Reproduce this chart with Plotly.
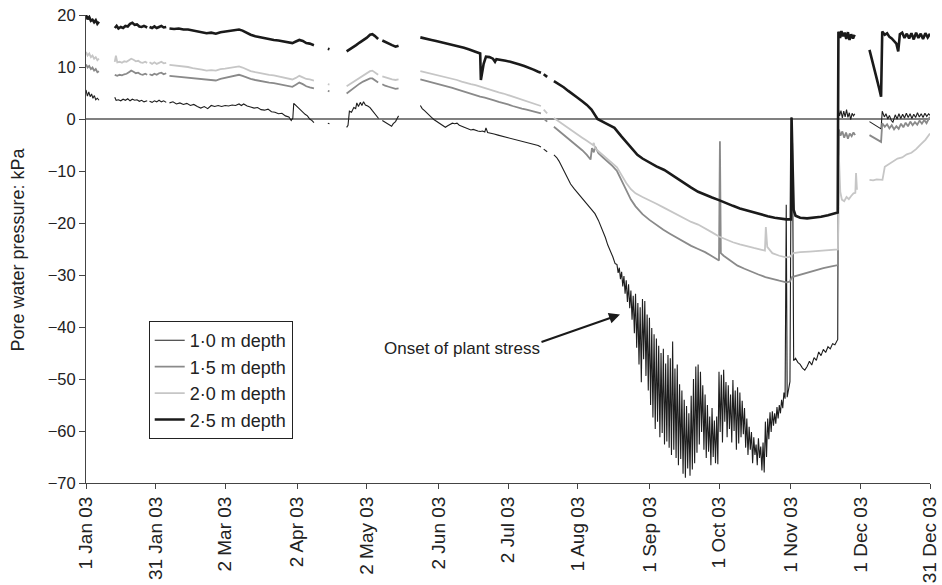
import plotly.graph_objects as go

# ---------------- data (day of year 2003, pore water pressure kPa) ----------------
tick_days = [0, 30, 60, 91, 121, 152, 182, 212, 243, 273, 304, 334, 364]
tick_labels = ["1 Jan 03", "31 Jan 03", "2 Mar 03", "2 Apr 03", "2 May 03", "2 Jun 03",
               "2 Jul 03", "1 Aug 03", "1 Sep 03", "1 Oct 03", "1 Nov 03", "1 Dec 03", "31 Dec 03"]
series_names = ["1·0 m depth", "1·5 m depth", "2·0 m depth", "2·5 m depth"]

depth_1_0 = [
    (0, 5.6), (0.6, 4.4), (1.2, 5.2), (1.8, 4.3), (2.4, 4.8), (3.0, 4.0), (3.6, 4.5), (4.2, 3.7), (4.9, 4.0), (5.6, 3.6),
    None,
    (12.4, 4.2), (13.0, 3.6), (14.0, 3.7), (15.0, 3.5), (16.0, 3.8), (17.0, 3.6), (18.0, 3.9), (19.0, 3.5), (20.0, 3.8),
    (21.0, 3.6), (22.0, 3.7), (23.0, 3.4), (24.0, 3.6), (25.0, 3.3), (26.4, 3.5),
    None,
    (27.4, 3.4), (28.5, 3.2), (29.5, 3.5), (30.5, 3.3), (31.5, 3.6), (32.5, 3.3), (33.5, 3.5), (34.6, 3.2),
    None,
    (36.0, 3.1), (37.5, 3.3), (39.0, 2.9), (40.5, 3.1), (42.0, 2.8), (43.5, 3.0), (45.0, 2.6), (46.5, 2.8), (48.0, 2.4),
    (49.5, 2.1), (51.0, 2.4), (52.5, 2.0), (54.0, 2.6), (55.5, 2.4), (57.0, 2.6), (58.5, 2.4), (60.0, 2.6), (61.5, 2.5),
    (63.0, 2.7), (64.5, 2.6), (66.0, 2.9), (67.0, 2.6), (68.0, 2.9), (69.5, 2.5), (71.0, 2.3), (72.5, 2.1), (74.0, 2.2),
    (75.5, 1.8), (77.0, 1.7), (78.5, 1.9), (80.0, 1.4), (81.5, 1.3), (83.0, 1.0), (84.5, 1.1), (86.0, 0.6), (87.5, 0.4),
    (88.5, -0.3), (89.2, 0.2), (89.6, 3.0), (90.5, 2.6), (91.5, 2.1), (92.5, 1.7), (93.5, 1.2), (94.5, 0.9), (95.5, 0.6),
    (96.5, 0.0), (97.5, -0.3), (98.3, -0.7),
    None,
    (104.3, -0.8), (105.0, -0.9),
    None,
    (112.4, -1.6), (113.0, -1.2), (113.6, 1.5), (114.5, 1.3), (115.5, 2.2), (116.3, 2.0), (116.8, 3.1), (117.5, 2.4),
    (118.3, 3.2), (119.0, 2.6), (119.7, 3.3), (120.5, 2.7), (121.5, 2.5), (122.5, 2.2), (123.5, 1.6), (124.5, 1.0),
    (125.5, 0.6), (126.2, 0.1),
    None,
    (127.8, -0.3), (128.8, -0.6), (129.8, -0.8), (130.8, -1.2), (131.8, -1.4), (132.5, -0.9), (133.5, -0.5), (134.3, 0.2),
    (134.8, 0.6),
    None,
    (144.2, 2.6), (145.0, 2.0), (146.0, 1.6), (147.0, 1.1), (148.0, 0.8), (149.0, 0.3), (150.0, -0.1), (151.0, -0.4),
    (152.0, -0.8), (153.0, -1.1), (154.0, -1.4), (155.0, -1.6), (156.0, -1.3), (157.0, -1.0), (158.0, -0.8), (159.0, -0.9),
    (160.0, -0.8), (161.0, -1.2), (162.0, -1.4), (163.0, -1.5), (164.0, -1.8), (165.0, -1.9), (166.0, -2.1), (167.0, -2.0),
    (168.0, -2.2), (169.0, -2.3), (170.0, -2.4), (171.0, -2.3), (172.0, -2.5), (172.5, -1.7), (173.2, -2.6), (174.5, -2.7),
    (176.0, -2.9), (177.7, -3.1), (179.5, -3.3), (181.5, -3.5), (183.5, -3.7), (185.5, -3.9), (187.5, -4.2), (189.5, -4.4),
    (191.5, -4.6), (193.5, -4.9), (195.0, -5.1), (196.2, -5.4),
    None,
    (197.4, -5.8), (198.9, -6.3),
    None,
    (201.8, -6.9), (203.0, -7.4), (204.0, -8.1), (205.0, -9.0), (206.4, -10.3), (207.7, -11.5), (209.0, -12.5),
    (210.5, -13.4), (212.0, -14.2), (213.5, -15.0), (215.0, -15.9), (216.5, -16.8), (218.0, -17.4), (219.5, -18.2),
    (221.0, -19.5), (222.5, -21.0), (224.0, -22.8), (225.0, -24.2), (226.2, -25.4), (227.2, -26.5), (228.2, -27.8),
    (229.0, -28.0), (229.5, -29.6), (230.0, -28.6), (230.5, -30.8), (231.0, -29.4), (231.5, -32.2),
    (232.0, -30.2), (232.5, -33.6), (233.0, -31.0), (233.5, -35.2), (234.0, -31.8), (234.5, -36.4),
    (235.0, -33.0), (235.5, -38.6), (236.0, -34.0), (236.5, -41.2), (237.0, -33.6), (237.5, -44.0),
    (238.0, -35.4), (238.5, -47.2), (239.0, -36.2), (239.5, -50.6), (240.0, -34.6), (240.5, -46.2),
    (241.0, -35.0), (241.5, -49.4), (242.0, -37.6), (242.5, -52.2), (243.0, -38.2), (243.5, -55.0),
    (244.0, -40.2), (244.5, -57.4), (245.0, -41.4), (245.5, -59.6), (246.0, -42.2), (246.5, -58.2),
    (247.0, -43.6), (247.5, -61.2), (248.0, -45.0), (248.5, -60.4), (249.0, -44.2), (249.5, -62.6),
    (250.0, -47.0), (250.5, -62.0), (251.0, -45.4), (251.5, -63.2), (252.0, -46.0), (252.5, -64.6),
    (253.0, -42.8), (253.5, -63.6), (254.0, -48.0), (254.5, -65.2), (255.0, -47.2), (255.5, -66.6),
    (256.0, -51.0), (256.5, -65.4), (257.0, -52.2), (257.5, -68.2), (258.0, -54.0), (258.5, -69.0),
    (259.0, -55.2), (259.5, -67.2), (260.0, -56.6), (260.5, -68.6), (261.0, -53.2), (261.5, -67.4),
    (262.0, -50.0), (262.5, -66.2), (263.0, -47.6), (263.5, -64.2), (264.0, -47.2), (264.5, -62.6),
    (265.0, -48.6), (265.5, -60.2), (266.0, -51.2), (266.5, -63.6), (267.0, -53.0), (267.5, -65.2),
    (268.0, -55.0), (268.5, -64.0), (269.0, -57.2), (269.5, -66.6), (270.0, -55.6), (270.5, -65.0),
    (271.0, -58.0), (271.5, -66.2), (272.0, -57.2), (272.5, -66.4), (273.0, -48.6), (273.5, -60.2),
    (274.0, -49.2), (274.5, -62.2), (275.0, -48.2), (275.5, -58.2), (276.0, -50.6), (276.5, -61.2),
    (277.0, -51.2), (277.5, -59.6), (278.0, -53.0), (278.5, -62.2), (279.0, -50.2), (279.5, -60.0),
    (280.0, -52.2), (280.5, -63.6), (281.0, -51.6), (281.5, -62.4), (282.0, -52.6), (282.5, -61.2),
    (283.0, -54.2), (283.5, -60.6), (284.0, -55.6), (284.5, -63.2), (285.0, -57.6), (285.5, -64.6),
    (286.0, -59.2), (286.5, -63.6), (287.0, -60.2), (287.5, -66.2), (288.0, -61.2), (288.5, -64.6),
    (289.0, -62.6), (289.5, -66.6), (290.0, -61.4), (290.5, -65.2), (291.0, -63.0), (291.5, -67.6),
    (292.0, -62.2), (292.5, -68.0), (293.0, -58.2), (293.5, -65.0), (294.0, -57.6), (294.5, -61.6),
    (295.0, -56.4), (295.5, -60.2), (296.0, -56.2), (296.5, -59.0), (297.0, -56.6), (297.5, -58.6),
    (298.0, -55.4), (298.5, -57.6), (299.0, -55.0), (299.5, -56.6), (300.0, -54.0), (300.5, -55.6),
    (301.0, -52.6), (301.5, -53.8),
    (302.0, -16.5), (302.4, -53.5), (303.0, -52.0), (303.6, -50.5), (304.2, 0.3), (304.7, -4.6), (305.2, -46.5),
    (306.0, -46.0), (307.0, -46.8), (308.0, -47.2), (309.0, -47.9), (310.0, -48.3), (311.0, -47.6), (312.0, -46.6),
    (313.0, -47.3), (314.0, -45.9), (315.0, -46.4), (316.0, -44.8), (317.0, -45.5), (318.0, -44.3), (319.0, -44.9),
    (320.0, -43.8), (321.0, -44.2), (322.0, -43.2), (323.0, -43.4), (324.2, -42.4),
    (324.5, 1.9), (325.0, 0.6), (325.6, 1.6), (326.2, 0.2), (326.8, 1.5), (327.4, 0.4), (328.0, 1.8), (328.6, 0.3),
    (329.2, 1.2), (329.8, -0.1), (330.4, 1.1), (331.0, 0.6), (331.6, 1.0),
    None,
    (337.9, -0.5), (339.5, -0.9), (341.0, -1.3), (342.9, -1.9), (343.4, 1.5), (344.3, 0.4), (345.0, 1.0), (345.8, 0.0),
    (346.5, 0.7), (347.3, -0.3), (348.0, -0.6), (349.0, 0.8), (349.8, 0.0), (350.6, 1.0), (351.4, 0.1), (352.2, 0.9),
    (353.0, 0.2), (353.8, 1.1), (354.6, 0.3), (355.4, 1.0), (356.2, 0.1), (357.0, 0.9), (357.8, 0.3), (358.6, 1.2),
    (359.4, 0.4), (360.2, 1.0), (361.0, 0.3), (361.8, 1.1), (362.6, 0.5), (363.4, 1.0), (364.0, 0.7),
]

depth_1_5 = [
    (0, 10.5), (0.7, 9.9), (1.4, 10.2), (2.1, 9.6), (2.8, 9.9), (3.5, 9.3), (4.2, 9.6), (4.9, 9.0), (5.6, 9.2),
    None,
    (12.4, 8.5), (13.5, 8.3), (14.5, 8.5), (15.5, 8.4), (16.5, 8.6), (17.5, 8.7), (18.5, 9.0), (19.5, 9.3), (20.5, 9.1),
    (21.5, 8.8), (22.5, 8.9), (23.5, 8.6), (24.5, 8.5), (25.5, 8.7), (26.4, 8.5),
    None,
    (27.4, 8.6), (28.5, 8.4), (29.5, 8.7), (30.5, 8.5), (31.5, 8.8), (32.5, 8.9), (33.5, 8.6), (34.6, 8.8),
    None,
    (36.0, 8.3), (38.0, 8.2), (40.0, 8.1), (42.0, 8.0), (44.0, 7.9), (46.0, 7.8), (48.0, 7.7), (50.0, 7.6), (52.0, 7.5),
    (54.0, 7.5), (56.0, 7.4), (58.0, 7.7), (60.0, 7.9), (62.0, 8.1), (64.0, 8.3), (66.0, 8.5), (67.5, 8.3), (69.0, 8.0),
    (71.0, 7.7), (73.0, 7.5), (75.0, 7.3), (77.0, 7.2), (79.0, 7.0), (81.0, 6.9), (83.0, 6.7), (85.0, 6.5), (87.0, 6.3),
    (89.0, 6.2), (90.5, 6.6), (92.0, 7.0), (93.5, 6.7), (95.0, 6.3), (96.5, 6.1), (98.3, 5.9),
    None,
    (104.3, 5.4), (105.0, 5.3),
    None,
    (112.4, 4.9), (113.5, 5.3), (115.0, 5.8), (116.5, 6.3), (118.0, 6.8), (119.5, 7.2), (121.0, 7.5), (122.5, 7.8),
    (123.5, 7.8), (124.5, 7.5), (126.0, 7.0),
    None,
    (127.8, 6.7), (129.0, 6.4), (130.5, 6.2), (132.0, 6.0), (133.5, 5.8), (134.8, 5.9),
    None,
    (144.2, 7.6), (146.0, 7.4), (148.0, 7.2), (150.0, 7.0), (152.0, 6.8), (154.0, 6.5), (156.0, 6.3), (158.0, 6.0),
    (160.0, 5.7), (162.0, 5.4), (164.0, 5.1), (166.0, 4.8), (168.0, 4.6), (170.0, 4.3), (172.0, 4.1), (174.0, 3.9),
    (176.0, 3.6), (178.0, 3.3), (180.0, 3.1), (182.0, 2.8), (184.0, 2.5), (186.0, 2.2), (188.0, 2.0), (190.0, 1.8),
    (192.0, 1.6), (194.0, 1.4), (196.2, 1.1),
    None,
    (197.4, 0.1), (198.9, -0.5),
    None,
    (201.8, -1.5), (204.0, -2.3), (206.0, -3.0), (208.0, -3.8), (210.0, -4.6), (212.0, -5.3), (214.0, -6.0),
    (216.0, -6.9), (217.6, -7.8), (218.2, -5.6), (219.0, -6.4), (219.6, -5.3), (221.0, -6.6), (223.0, -7.4),
    (225.0, -8.2), (227.0, -9.0), (229.0, -10.0), (231.0, -11.8), (233.0, -13.7), (235.0, -15.5), (237.0, -16.8),
    (240.0, -18.3), (243.0, -19.4), (246.0, -20.4), (249.0, -21.3), (252.0, -22.1), (255.0, -22.9), (258.0, -23.6),
    (261.0, -24.4), (264.0, -25.0), (267.0, -25.6), (270.0, -26.4), (273.0, -27.2), (273.4, -4.3), (273.8, -25.8),
    (275.0, -26.3), (278.0, -27.3), (281.0, -28.2), (284.0, -28.8), (287.0, -29.4), (290.0, -29.9), (293.0, -30.4),
    (296.0, -30.8), (299.0, -31.1), (302.0, -31.4), (303.5, -31.3), (304.5, -30.4), (306.0, -30.2), (309.0, -29.8),
    (312.0, -29.5), (315.0, -29.1), (318.0, -28.7), (321.0, -28.4), (324.3, -28.1),
    (324.7, -2.0), (325.4, -3.2), (326.2, -2.4), (327.0, -3.6), (327.8, -2.6), (328.6, -3.8), (329.4, -2.8),
    (330.2, -3.3), (331.0, -2.6), (331.7, -3.1),
    None,
    (337.9, -3.1), (339.5, -3.5), (341.0, -3.9), (342.9, -4.4), (343.4, -0.8), (344.5, -1.5), (345.5, -1.0),
    (346.5, -1.8), (347.5, -1.2), (348.5, -2.0), (349.5, -1.4), (350.5, -1.9), (351.5, -0.9), (352.5, -1.6),
    (353.5, -0.7), (354.5, -1.4), (355.5, -0.5), (356.5, -1.2), (357.5, -0.6), (358.5, -1.1), (359.5, -0.3),
    (360.5, -0.9), (361.5, -0.2), (362.5, -0.8), (363.5, 0.1), (364.0, 0.4),
]

depth_2_0 = [
    (0, 12.9), (0.7, 12.2), (1.4, 12.6), (2.1, 11.9), (2.8, 12.2), (3.5, 11.6), (4.2, 11.9), (4.9, 11.3), (5.6, 11.6),
    None,
    (12.4, 11.0), (12.9, 12.2), (13.5, 10.9), (14.5, 11.0), (15.5, 10.8), (16.5, 11.1), (17.5, 11.0), (18.5, 11.3),
    (19.5, 11.6), (20.5, 11.4), (21.5, 11.1), (22.5, 11.2), (23.5, 10.9), (24.5, 10.8), (25.5, 11.0), (26.4, 10.8),
    None,
    (27.4, 10.9), (28.5, 10.6), (29.5, 10.9), (30.5, 10.6), (31.5, 10.8), (32.5, 11.0), (33.5, 10.7), (34.6, 10.8),
    None,
    (36.0, 10.4), (38.0, 10.3), (40.0, 10.3), (42.0, 10.1), (44.0, 10.0), (46.0, 9.8), (48.0, 9.7), (50.0, 9.5),
    (52.0, 9.3), (54.0, 9.4), (56.0, 9.3), (58.0, 9.6), (60.0, 9.7), (62.0, 9.8), (64.0, 9.9), (66.0, 10.1),
    (67.5, 9.9), (69.0, 9.6), (71.0, 9.2), (73.0, 9.0), (75.0, 8.8), (77.0, 8.7), (79.0, 8.5), (81.0, 8.4), (83.0, 8.2),
    (85.0, 8.0), (87.0, 7.7), (89.0, 7.6), (90.5, 7.9), (92.0, 8.3), (93.5, 8.0), (95.0, 7.7), (96.5, 7.6), (98.3, 7.4),
    None,
    (104.3, 6.7), (105.0, 6.6),
    None,
    (112.4, 6.3), (113.5, 6.6), (115.0, 7.0), (116.5, 7.5), (118.0, 7.9), (119.5, 8.3), (121.0, 8.8), (122.5, 9.2),
    (123.5, 9.3), (124.5, 9.0), (126.0, 8.5),
    None,
    (127.8, 8.2), (129.0, 8.0), (130.5, 7.8), (132.0, 7.6), (133.5, 7.5), (134.8, 7.6),
    None,
    (144.2, 9.2), (146.0, 9.0), (148.0, 8.8), (150.0, 8.6), (152.0, 8.4), (154.0, 8.2), (156.0, 8.0), (158.0, 7.8),
    (160.0, 7.5), (162.0, 7.2), (164.0, 6.9), (166.0, 6.7), (168.0, 6.5), (170.0, 6.2), (172.0, 5.9), (174.0, 5.7),
    (176.0, 5.4), (178.0, 5.1), (180.0, 4.9), (182.0, 4.6), (184.0, 4.3), (186.0, 4.0), (188.0, 3.8), (190.0, 3.5),
    (192.0, 3.2), (194.0, 2.9), (196.2, 2.5),
    None,
    (197.4, 1.8), (198.9, 1.1),
    None,
    (201.8, 0.2), (204.0, -0.5), (206.0, -1.2), (208.0, -1.8), (210.0, -2.4), (212.0, -3.0), (214.0, -3.6),
    (216.0, -4.2), (217.6, -4.7), (218.6, -5.0), (219.0, -4.6), (219.5, -5.6), (221.0, -6.2), (223.0, -7.0),
    (225.0, -7.8), (227.0, -8.5), (229.0, -9.3), (231.0, -10.8), (233.0, -12.3), (235.0, -13.5), (237.0, -14.3),
    (240.0, -15.0), (243.0, -15.6), (246.0, -16.3), (249.0, -17.0), (252.0, -17.7), (255.0, -18.4), (258.0, -19.2),
    (261.0, -19.8), (264.0, -20.3), (267.0, -21.0), (270.0, -21.8), (273.0, -22.6), (276.0, -23.2), (279.0, -23.7),
    (282.0, -24.1), (285.0, -24.5), (288.0, -24.8), (291.0, -25.1), (292.8, -25.3), (293.2, -20.8), (293.8, -24.6),
    (296.0, -25.8), (299.0, -26.3), (302.0, -26.6), (303.5, -26.5), (305.0, -25.8), (308.0, -25.6), (312.0, -25.5),
    (316.0, -25.4), (320.0, -25.2), (324.3, -25.1),
    (324.7, -7.0), (325.3, -14.0), (326.0, -15.5), (327.0, -15.8), (328.0, -15.0), (329.0, -15.4), (330.0, -14.8),
    (331.0, -14.3), (331.8, -14.2), (332.1, -10.4), (332.5, -13.6),
    None,
    (337.9, -11.7), (339.5, -11.8), (341.0, -11.6), (343.5, -11.7), (344.5, -9.2), (346.0, -8.8), (348.0, -8.2),
    (350.0, -7.6), (352.0, -7.4), (354.0, -6.8), (356.0, -6.5), (358.0, -5.8), (360.0, -4.9), (362.0, -4.0),
    (364.0, -2.8),
]

depth_2_5 = [
    (0, 20.0), (0.7, 19.2), (1.4, 19.6), (2.1, 18.9), (2.8, 19.1), (3.5, 18.6), (4.2, 19.0), (4.9, 18.3), (5.6, 18.7),
    None,
    (12.4, 17.5), (13.2, 17.9), (14.0, 17.4), (15.0, 17.7), (16.0, 17.5), (17.0, 17.9), (18.0, 17.8), (19.0, 18.3),
    (20.0, 18.5), (21.0, 18.1), (22.0, 18.2), (23.0, 17.8), (24.0, 17.7), (25.0, 17.9), (26.4, 17.6),
    None,
    (27.4, 17.7), (28.5, 17.5), (29.5, 17.8), (30.5, 17.5), (31.5, 17.7), (32.5, 17.9), (33.5, 17.6), (34.6, 17.7),
    None,
    (36.0, 17.4), (38.0, 17.3), (40.0, 17.4), (42.0, 17.2), (44.0, 17.2), (46.0, 17.0), (48.0, 16.9), (50.0, 16.7),
    (52.0, 16.5), (54.0, 16.6), (56.0, 16.4), (58.0, 16.7), (60.0, 16.8), (62.0, 16.9), (64.0, 17.0), (66.0, 17.2),
    (67.5, 17.0), (69.0, 16.6), (71.0, 16.2), (73.0, 15.9), (75.0, 15.7), (77.0, 15.5), (79.0, 15.4), (81.0, 15.2),
    (83.0, 15.1), (85.0, 14.9), (87.0, 14.7), (89.0, 14.6), (90.5, 14.9), (92.0, 15.2), (93.5, 15.0), (95.0, 14.6),
    (96.5, 14.5), (98.3, 14.2),
    None,
    (104.3, 13.5), (105.0, 13.4),
    None,
    (112.4, 13.0), (113.5, 13.3), (115.0, 13.7), (116.5, 14.2), (118.0, 14.7), (119.5, 15.1), (121.0, 15.6),
    (122.5, 16.2), (123.5, 16.3), (124.5, 16.0), (126.0, 15.4),
    None,
    (127.8, 15.1), (129.0, 14.8), (130.5, 14.5), (132.0, 14.2), (133.5, 13.9), (134.8, 14.1),
    None,
    (144.2, 15.7), (145.5, 15.6), (147.0, 15.4), (149.0, 15.2), (151.0, 15.0), (153.0, 14.8), (155.0, 14.6),
    (157.0, 14.3), (159.0, 14.1), (161.0, 13.9), (163.0, 13.7), (165.0, 13.4), (167.0, 13.1), (169.0, 12.8),
    (170.0, 12.6), (170.3, 7.5), (171.5, 10.6), (172.5, 12.0), (174.0, 11.9), (175.5, 11.6), (176.4, 11.0),
    (177.0, 11.5), (179.0, 11.4), (181.0, 11.2), (183.0, 11.0), (185.0, 10.8), (187.0, 10.5), (189.0, 10.2),
    (191.0, 9.9), (193.0, 9.5), (195.0, 9.1), (196.2, 8.9),
    None,
    (197.4, 8.6), (198.9, 8.1),
    None,
    (201.8, 7.3), (204.0, 6.7), (206.0, 6.1), (208.0, 5.4), (210.0, 4.8), (212.0, 4.1), (214.0, 3.4), (216.0, 2.7),
    (218.0, 1.8), (220.6, 0.0), (224.0, -0.8), (227.9, -1.7), (231.0, -3.4), (234.8, -5.3), (237.8, -6.9),
    (240.0, -7.6), (243.0, -8.4), (246.0, -9.1), (249.4, -9.8), (252.0, -10.6), (255.0, -11.5), (258.0, -12.4),
    (261.0, -13.2), (264.0, -14.0), (267.0, -14.6), (270.0, -15.1), (273.0, -15.6), (276.0, -16.2), (279.0, -16.7),
    (282.0, -17.2), (285.0, -17.6), (288.0, -18.0), (291.0, -18.4), (294.0, -18.7), (297.0, -19.0), (300.0, -19.2),
    (302.0, -19.3), (304.0, -19.3), (304.3, 0.3), (304.8, -10.0), (305.2, -17.5), (306.0, -18.6), (308.0, -19.0),
    (311.0, -19.1), (314.0, -19.0), (317.0, -18.8), (320.0, -18.5), (322.0, -18.3), (324.2, -18.0),
    (324.5, 16.8), (325.2, 15.6), (325.8, 16.9), (326.5, 15.9), (327.2, 16.6), (327.9, 15.4), (328.6, 16.7),
    (329.3, 15.2), (330.0, 16.3), (330.8, 15.5), (331.5, 16.2),
    None,
    (337.9, 13.3), (339.0, 11.5), (340.0, 9.6), (341.0, 7.8), (342.0, 6.0), (342.9, 4.3), (343.4, 16.8),
    (344.5, 16.2), (345.5, 16.5), (346.5, 15.8), (347.5, 15.5), (348.5, 15.0), (349.5, 14.5), (350.3, 13.0),
    (351.0, 16.3), (352.0, 16.6), (353.0, 15.6), (354.0, 16.4), (355.0, 15.5), (356.0, 16.5), (357.0, 15.3),
    (358.0, 16.6), (359.0, 15.6), (360.0, 16.4), (361.0, 15.4), (362.0, 16.5), (363.0, 15.7), (364.0, 16.4),
]

annotation_text = "Onset of plant stress"


def split(pairs):
    xs, ys = [], []
    for p in pairs:
        if p is None:
            xs.append(None)
            ys.append(None)
        else:
            xs.append(p[0])
            ys.append(p[1])
    return xs, ys


styles = [
    dict(color="#1e1e1e", width=1.1),
    dict(color="#8a8a8a", width=1.8),
    dict(color="#c6c6c6", width=1.8),
    dict(color="#1a1a1a", width=2.6),
]

fig = go.Figure()
for name, data, st in zip(series_names, [depth_1_0, depth_1_5, depth_2_0, depth_2_5], styles):
    xs, ys = split(data)
    fig.add_trace(go.Scatter(x=xs, y=ys, mode="lines", name=name, line=st,
                             connectgaps=False, legendgroup=name))

font_family = "Liberation Sans, Arial, sans-serif"

# arrow (no text) and label
fig.add_annotation(x=230.3, y=-37.6, ax=-80, ay=28, xref="x", yref="y", axref="pixel", ayref="pixel",
                   text="", showarrow=True, arrowhead=2, arrowsize=1.1, arrowwidth=2, arrowcolor="#1a1a1a")
fig.add_annotation(x=162.2, y=-44.2, xref="x", yref="y", text=annotation_text, showarrow=False,
                   font=dict(family=font_family, size=17, color="#222"))
# y axis title
fig.add_annotation(x=-0.080, y=0.5, xref="paper", yref="paper", text="Pore water pressure: kPa",
                   textangle=-90, showarrow=False, xanchor="center", yanchor="middle",
                   font=dict(family=font_family, size=18, color="#222"))

fig.update_layout(
    width=942, height=585,
    margin=dict(l=86, r=12, t=15, b=102),
    paper_bgcolor="white", plot_bgcolor="white",
    font=dict(family=font_family, size=17, color="#222"),
    showlegend=True,
    legend=dict(x=0.0743, y=0.346, xanchor="left", yanchor="top", bgcolor="white",
                bordercolor="#222", borderwidth=1, font=dict(size=18, family=font_family),
                tracegroupgap=4, traceorder="normal"),
)
fig.update_xaxes(range=[0, 364], tickvals=tick_days, ticktext=tick_labels, tickangle=-90,
                 showline=True, linecolor="#444", linewidth=1, ticks="outside", ticklen=5,
                 tickcolor="#444", showgrid=False, zeroline=False, automargin=False,
                 ticklabeloverflow="allow",
                 tickfont=dict(size=19, family=font_family, color="#222"))
fig.update_yaxes(range=[-70, 20], dtick=10, tick0=0, showline=True, linecolor="#444", linewidth=1,
                 ticks="outside", ticklen=6, tickcolor="#444", showgrid=False,
                 zeroline=True, zerolinecolor="#808080", zerolinewidth=1.5, automargin=False,
                 tickfont=dict(size=16.5, family=font_family, color="#222"))

fig.write_html("out.html")
